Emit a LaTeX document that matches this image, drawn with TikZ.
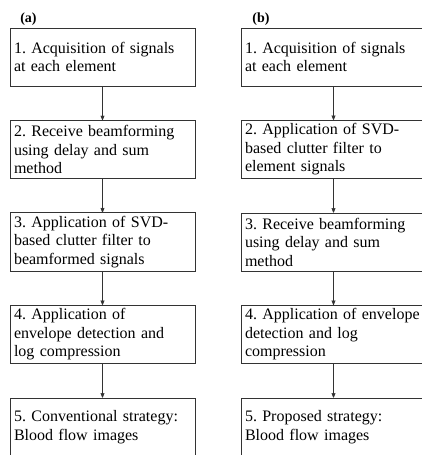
\documentclass[tikz,border=0pt]{standalone}
\usepackage{fontspec}
\setmainfont{Liberation Serif}
\usetikzlibrary{positioning,arrows}
\frenchspacing
\hyphenpenalty=10000

\begin{document}
\begin{tikzpicture}[x=1pt,y=1pt]
    \useasboundingbox (0,0) rectangle (422,-455);
    \begin{scope}[on grid,>=stealth', node distance=92.5pt,
    		block/.style={rectangle,draw=black!80,line width=0.8pt,minimum width=185pt,minimum height=58pt,
    		text width=177pt,inner xsep=4pt,align=left,font=\fontsize{16}{18.5}\selectfont},
    		tag/.style={font=\fontsize{14}{16}\selectfont\bfseries},
    		arrow/.style={black!80, ->, line width=0.7pt}]

    \node[tag] (taga) at (28.5,-19) {(a)};
    \node[tag] (tagb) at (261,-19) {(b)};

    % (a) conventional
    \node[block] (a1) at (102.5,-57) {1. Acquisition of signals\\at each element};
    \node[block] (a2) [below=of a1] {2. Receive beamforming\\using delay and sum\\method};
    \node[block] (a3) [below=of a2] {3. Application of SVD-\\based clutter filter to\\beamformed signals};
    \node[block] (a4) [below=of a3] {4. Application of\\envelope detection and\\log compression};
    \node[block] (a5) [below=of a4] {5. Conventional strategy:\\Blood flow images};

    % (b) proposed
    \node[block] (b1) at (333.5,-57) {1. Acquisition of signals\\at each element};
    \node[block] (b2) [below=of b1] {2. Application of SVD-\\based clutter filter to\\element signals};
    \node[block] (b3) [below=of b2] {3. Receive beamforming\\using delay and sum\\method};
    \node[block] (b4) [below=of b3] {4. Application of envelope\\detection and log\\compression};
    \node[block] (b5) [below=of b4] {5. Proposed strategy:\\Blood flow images};

    \draw[arrow]
    (a1) edge (a2)
    (a2) edge (a3)
    (a3) edge (a4)
    (a4) edge (a5)
    (b1) edge (b2)
    (b2) edge (b3)
    (b3) edge (b4)
    (b4) edge (b5);

    \end{scope}
\end{tikzpicture}
\end{document}
